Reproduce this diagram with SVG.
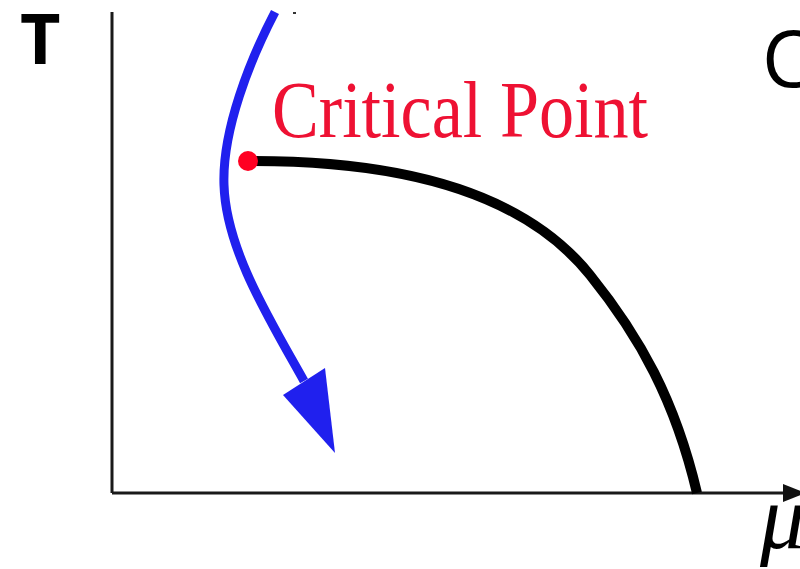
<svg xmlns="http://www.w3.org/2000/svg" width="800" height="569" viewBox="0 0 800 569">
<style>
.axis{stroke:#1a1a1a;stroke-width:3;fill:none}
.label{font-family:"Open Sans","DejaVu Sans",sans-serif;fill:#000}
.crit{font-family:"Liberation Serif","DejaVu Serif",serif;fill:#ee1133}
</style>
<rect width="800" height="569" fill="#fff"/>
<g id="connectors">
<path id="y-axis" class="axis" d="M112,12 V493"/>
<path id="x-axis" class="axis" d="M112,493 H785"/>
<polygon points="783,484 806,493 783,502" fill="#111"/>
<path id="phase-line" d="M248,161 C420,160 530,200 590,275 C640,337 675,400 697,493" fill="none" stroke="#000" stroke-width="10"/>
<path id="trajectory" d="M275,12 C250,60 222,130 224,185 C226,250 270,320 304,381" fill="none" stroke="#2020ee" stroke-width="9"/>
<polygon points="283,395 325,368 335,453" fill="#2020ee"/>
<rect x="293" y="12" width="3" height="2" fill="#333"/>
</g>
<g id="critical-point">
<circle cx="248" cy="161" r="10" fill="#ff0022"/>
<text class="crit" x="272" y="137" font-size="80" textLength="376" lengthAdjust="spacingAndGlyphs">Critical Point</text>
</g>
<g id="labels">
<text class="label" x="20" y="64" font-size="70" font-weight="bold">T</text>
<text class="label" x="762" y="87" font-size="78">C</text>
<text x="760" y="548" font-size="90" font-style="italic" font-family="Liberation Serif,serif">μ</text>
</g>
</svg>
